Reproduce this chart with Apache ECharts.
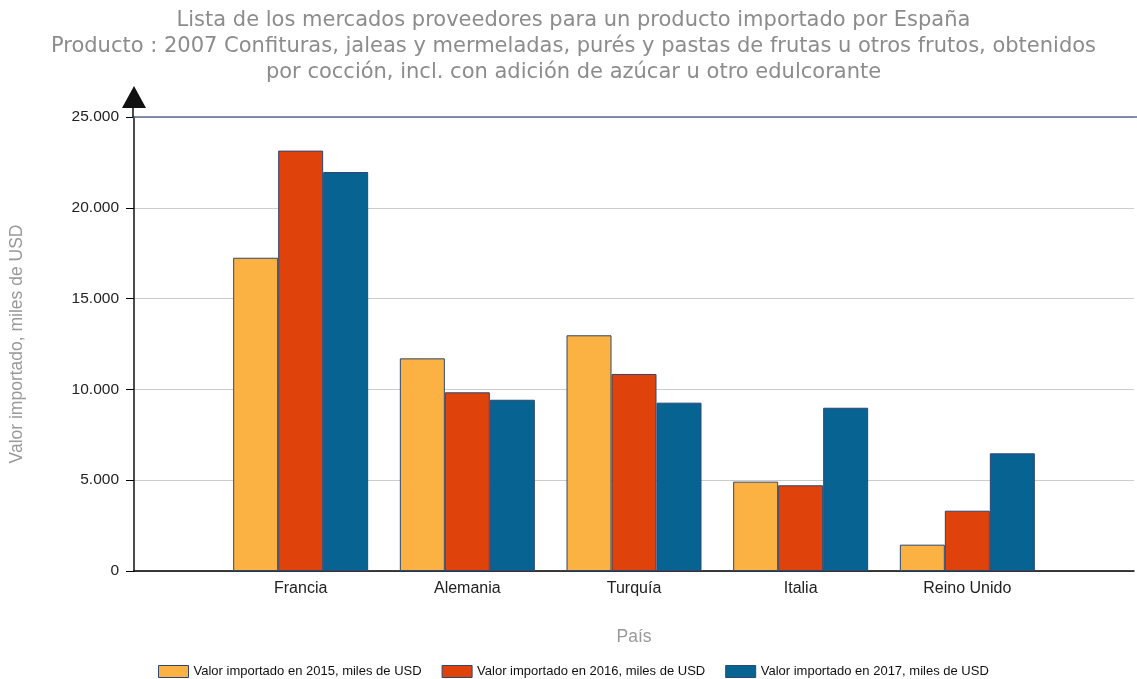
<!DOCTYPE html>
<html>
<head>
<meta charset="utf-8">
<script src="https://cdn.jsdelivr.net/npm/echarts@6/dist/echarts.min.js"></script>
<style>
  html, body { margin: 0; padding: 0; background: #fff; }
  #chart { width: 1137px; height: 679px; }
</style>
</head>
<body>
<div id="chart"></div>
<script>
// Empty slots at both ends keep the bars off the axes
const countries = ['', 'Francia', 'Alemania', 'Turquía', 'Italia', 'Reino Unido', ''];
const value2015 = [null, 17250, 11710, 12980, 4920, 1450, null];
const value2016 = [null, 23150, 9840, 10850, 4720, 3320, null];
const value2017 = [null, 21970, 9430, 9270, 8990, 6480, null];
const seriesNames = [
  'Valor importado en 2015, miles de USD',
  'Valor importado en 2016, miles de USD',
  'Valor importado en 2017, miles de USD'
];
const yTicks = [0, 5000, 10000, 15000, 20000, 25000];

const colors = ['#FBB242', '#E0420B', '#066392'];
const barBorder = '#2E4672';
const GRID = { left: 133, right: 0, top: 117, bottom: 108 };

function fmt(v) {
  return String(v).replace(/\B(?=(\d{3})+(?!\d))/g, '.');
}

const chart = echarts.init(document.getElementById('chart'), null, { renderer: 'canvas' });

function bar(name, data, i) {
  return {
    name: name,
    type: 'bar',
    data: data,
    barWidth: 45,
    barGap: '0%',
    itemStyle: { color: colors[i], borderColor: barBorder, borderWidth: 1 }
  };
}

chart.setOption({
  animation: false,
  color: colors,
  title: {
    text: 'Lista de los mercados proveedores para un producto importado por España\nProducto : 2007 Confituras, jaleas y mermeladas, purés y pastas de frutas u otros frutos, obtenidos\npor cocción, incl. con adición de azúcar u otro edulcorante',
    left: '50%',
    textAlign: 'center',
    top: 3,
    textStyle: {
      fontFamily: 'DejaVu Sans',
      fontSize: 21,
      fontWeight: 'normal',
      color: '#8c8c8c',
      lineHeight: 26
    }
  },
  legend: {
    top: 660,
    left: 153,
    itemWidth: 30,
    itemHeight: 12,
    itemGap: 20,
    icon: 'rect',
    itemStyle: { borderColor: barBorder, borderWidth: 1 },
    textStyle: {
      fontFamily: 'Liberation Sans Narrow, Liberation Sans, Arial',
      fontSize: 13,
      color: '#111'
    },
    data: seriesNames
  },
  grid: GRID,
  xAxis: {
    type: 'category',
    data: countries,
    boundaryGap: false,
    name: 'País',
    nameLocation: 'middle',
    nameGap: 57,
    nameTextStyle: { fontFamily: 'Liberation Sans, Arial', fontSize: 17.5, color: '#999' },
    axisLine: { lineStyle: { color: '#000', width: 1.5 } },
    axisTick: { show: false },
    axisLabel: {
      fontFamily: 'Liberation Sans, Arial',
      fontSize: 16,
      color: '#222',
      margin: 10
    },
    splitLine: { show: false }
  },
  yAxis: {
    type: 'value',
    min: 0,
    max: 25000,
    interval: 5000,
    name: 'Valor importado, miles de USD',
    nameLocation: 'middle',
    nameGap: 108,
    nameRotate: 90,
    nameTextStyle: { fontFamily: 'Liberation Sans, Arial', fontSize: 17.5, color: '#999' },
    axisLine: {
      show: true,
      lineStyle: { color: '#111', width: 1.5 },
      symbol: ['none', 'triangle'],
      symbolSize: [24, 22],
      symbolOffset: [0, 20]
    },
    axisTick: { show: true, length: 8, lineStyle: { color: '#000' } },
    axisLabel: {
      fontFamily: 'Liberation Sans, Arial',
      fontSize: 15.5,
      color: '#222',
      margin: 15,
      formatter: function (v) { return yTicks.indexOf(v) >= 0 ? fmt(v) : ''; }
    },
    splitLine: { show: true, lineStyle: { color: '#cccccc', width: 1 } }
  },
  series: [
    bar(seriesNames[0], value2015, 0),
    bar(seriesNames[1], value2016, 1),
    bar(seriesNames[2], value2017, 2)
  ]
});

// Top border line of the plot and the axis stub up to the arrow head
const w = chart.getWidth();
chart.setOption({
  graphic: [
    {
      type: 'line',
      shape: { x1: GRID.left, y1: GRID.top, x2: w - GRID.right, y2: GRID.top },
      style: { stroke: '#5A6E92', lineWidth: 1.5 },
      z: 5
    },
    {
      type: 'line',
      shape: { x1: GRID.left, y1: GRID.top, x2: GRID.left, y2: GRID.top - 12 },
      style: { stroke: '#111', lineWidth: 1.5 },
      z: 5
    }
  ]
});
</script>
</body>
</html>
